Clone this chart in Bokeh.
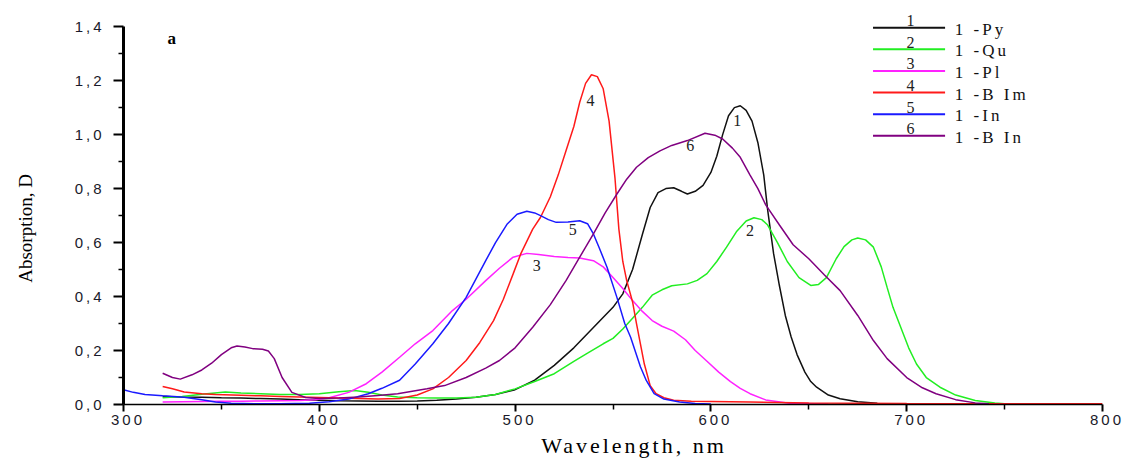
import math
from bokeh.plotting import figure
from bokeh.layouts import row
from bokeh.models import Range1d, FixedTicker, CustomJSTickFormatter, Label
from bokeh.embed import file_html
from bokeh.resources import INLINE

# ---- data ----
names = ["1 -Py", "1 -Qu", "1 -Pl", "1 -B Im", "1 -In", "1 -B In"]
numbers = ["1", "2", "3", "4", "5", "6"]
colors = ["#111111", "#22ee22", "#ff22ff", "#ff1a1a", "#1a1aff", "#800080"]

py_wl = [320, 330, 340, 350, 360, 370, 380, 390, 400, 410, 420, 430, 440, 450, 460, 470, 480, 490, 500, 510,
         520, 530, 540, 550, 555, 560, 565, 569, 573, 577, 581, 585, 588, 592, 596, 600, 603, 606, 609, 612,
         615, 618, 621, 624, 627, 629, 632, 635, 638, 641, 644, 648, 651, 654, 660, 666, 675, 685]
py_a = [0.030, 0.028, 0.027, 0.025, 0.024, 0.022, 0.020, 0.018, 0.016, 0.014, 0.013, 0.012, 0.012, 0.013, 0.016, 0.020, 0.027, 0.037, 0.055, 0.090,
        0.145, 0.210, 0.285, 0.360, 0.410, 0.500, 0.630, 0.730, 0.785, 0.800, 0.803, 0.790, 0.780, 0.790, 0.812, 0.860, 0.920, 1.000, 1.070, 1.100,
        1.107, 1.090, 1.050, 0.970, 0.850, 0.720, 0.560, 0.440, 0.330, 0.250, 0.185, 0.120, 0.085, 0.064, 0.035, 0.021, 0.010, 0.005]

qu_wl = [320, 330, 340, 352, 360, 370, 380, 390, 400, 410, 418, 425, 432, 440, 450, 460, 470, 480, 490, 500,
         510, 520, 530, 537, 545, 550, 555, 560, 565, 570, 575, 580, 588, 593, 598, 603, 608, 613, 618, 622,
         626, 629, 634, 639, 645, 651, 655, 659, 664, 668, 672, 675, 679, 683, 687, 690, 693, 697, 701, 705,
         710, 717, 725, 735, 745, 750]
qu_a = [0.025, 0.030, 0.038, 0.046, 0.043, 0.040, 0.037, 0.037, 0.040, 0.047, 0.052, 0.045, 0.035, 0.028, 0.025, 0.024, 0.024, 0.027, 0.037, 0.058,
        0.085, 0.114, 0.160, 0.190, 0.225, 0.245, 0.280, 0.320, 0.360, 0.405, 0.425, 0.440, 0.447, 0.460, 0.485, 0.530, 0.583, 0.640, 0.680, 0.692,
        0.685, 0.665, 0.600, 0.530, 0.470, 0.441, 0.445, 0.470, 0.540, 0.585, 0.610, 0.617, 0.610, 0.583, 0.510, 0.434, 0.360, 0.285, 0.210, 0.150,
        0.100, 0.064, 0.035, 0.015, 0.006, 0.003]

pl_wl = [320, 330, 340, 350, 360, 370, 380, 390, 398, 405, 415, 424, 432, 441, 449, 458, 468, 475, 485, 492,
         499, 506, 512, 520, 527, 533, 540, 545, 550, 555, 560, 565, 570, 575, 581, 587, 592, 598, 604, 610,
         615, 620, 628, 640, 660]
pl_a = [0.009, 0.010, 0.011, 0.012, 0.012, 0.013, 0.014, 0.015, 0.018, 0.025, 0.045, 0.077, 0.120, 0.175, 0.225, 0.274, 0.348, 0.390, 0.459, 0.505,
        0.546, 0.560, 0.556, 0.548, 0.545, 0.543, 0.533, 0.510, 0.471, 0.430, 0.385, 0.345, 0.311, 0.290, 0.272, 0.240, 0.200, 0.160, 0.120, 0.085,
        0.060, 0.040, 0.017, 0.005, 0.002]

bim_wl = [320, 325, 331, 340, 347, 360, 370, 380, 390, 400, 410, 420, 430, 441, 450, 458, 466, 475, 482, 489,
          494, 499, 503, 509, 513, 518, 522, 526, 530, 533, 536, 539, 542, 545, 548, 551, 553, 555, 557, 560,
          562, 564, 566, 569, 572, 576, 581, 590, 600, 620, 650, 700, 750, 800]
bim_a = [0.067, 0.058, 0.046, 0.040, 0.037, 0.034, 0.032, 0.030, 0.028, 0.026, 0.024, 0.022, 0.020, 0.022, 0.035, 0.058, 0.100, 0.163, 0.230, 0.311,
         0.390, 0.484, 0.560, 0.650, 0.694, 0.770, 0.850, 0.940, 1.030, 1.120, 1.190, 1.222, 1.215, 1.170, 1.050, 0.840, 0.650, 0.530, 0.459, 0.380,
         0.300, 0.225, 0.150, 0.070, 0.040, 0.025, 0.016, 0.012, 0.011, 0.009, 0.006, 0.004, 0.003, 0.003]

in_wl = [300, 305, 311, 320, 331, 340, 347, 355, 367, 380, 395, 405, 415, 425, 432, 441, 449, 458, 466, 475,
         485, 490, 496, 501, 506, 510, 513, 517, 521, 527, 533, 537, 540, 543, 547, 552, 556, 559, 564, 567,
         571, 576, 584, 592, 600]
in_a = [0.055, 0.045, 0.037, 0.032, 0.027, 0.018, 0.009, 0.005, 0.003, 0.003, 0.005, 0.010, 0.020, 0.040, 0.060, 0.090, 0.150, 0.225, 0.300, 0.397,
        0.533, 0.600, 0.669, 0.705, 0.716, 0.710, 0.700, 0.685, 0.675, 0.676, 0.681, 0.670, 0.632, 0.580, 0.508, 0.397, 0.300, 0.249, 0.140, 0.089,
        0.040, 0.020, 0.009, 0.004, 0.002]

bin_wl = [320, 325, 329, 335, 340, 345, 350, 355, 358, 362, 366, 371, 374, 377, 381, 386, 393, 400, 410, 420,
          430, 440, 455, 464, 475, 485, 492, 500, 509, 518, 526, 533, 540, 546, 552, 557, 562, 568, 574, 580,
          588, 597, 602, 606, 611, 615, 620, 624, 628, 635, 642, 650, 658, 666, 675, 683, 690, 700, 708, 715,
          725, 735, 742]
bin_a = [0.116, 0.100, 0.094, 0.110, 0.128, 0.153, 0.185, 0.210, 0.217, 0.213, 0.207, 0.205, 0.198, 0.170, 0.100, 0.045, 0.026, 0.022, 0.024, 0.028,
         0.033, 0.040, 0.058, 0.070, 0.100, 0.135, 0.163, 0.210, 0.286, 0.370, 0.459, 0.546, 0.632, 0.710, 0.780, 0.835, 0.879, 0.915, 0.940, 0.960,
         0.978, 1.005, 0.998, 0.984, 0.950, 0.916, 0.850, 0.800, 0.740, 0.665, 0.592, 0.540, 0.480, 0.422, 0.330, 0.237, 0.170, 0.100, 0.062, 0.040,
         0.018, 0.006, 0.003]

series_wl = [py_wl, qu_wl, pl_wl, bim_wl, in_wl, bin_wl]
series_a = [py_a, qu_a, pl_a, bim_a, in_a, bin_a]

# curve number annotations (wavelength, absorption)
tag_x = [613.5, 620.0, 511.0, 538.5, 529.5, 589.5]
tag_y = [1.052, 0.644, 0.515, 1.126, 0.648, 0.960]

x_major = [300, 400, 500, 600, 700, 800]
x_minor = [350, 450, 550, 650, 750]
y_major = [0.0, 0.2, 0.4, 0.6, 0.8, 1.0, 1.2, 1.4]
y_minor = [0.1, 0.3, 0.5, 0.7, 0.9, 1.1, 1.3]

# ---- narrow strip carrying the (un-spaced) y axis title ----
lab = figure(width=40, height=461, output_backend="svg", toolbar_location=None,
             x_range=Range1d(0, 1), y_range=Range1d(0, 1),
             x_axis_location=None, y_axis_location=None,
             min_border_left=0, min_border_right=0, min_border_top=0, min_border_bottom=0)
lab.outline_line_color = None
lab.xgrid.visible = False
lab.ygrid.visible = False
lab.add_layout(Label(x=0.62, y=0.447, text="Absorption, D", angle=math.pi / 2,
                     text_font="Liberation Serif", text_font_size="19px", text_color="black",
                     text_align="center", text_baseline="middle"))

# ---- main plot ----
p = figure(width=1085, height=461, output_backend="svg", toolbar_location=None,
           x_range=Range1d(300, 800), y_range=Range1d(0, 1.46),
           min_border_left=83, min_border_right=23, min_border_top=10, min_border_bottom=57)
p.styles = {"letter-spacing": "3px"}
p.outline_line_color = None
p.xgrid.visible = False
p.ygrid.visible = False

for wl, a, c in zip(series_wl, series_a, colors):
    p.line(wl, a, line_color=c, line_width=1.5)

p.xaxis.ticker = FixedTicker(ticks=x_major, minor_ticks=x_minor)
p.yaxis.ticker = FixedTicker(ticks=y_major, minor_ticks=y_minor)
p.yaxis.formatter = CustomJSTickFormatter(code="return tick.toFixed(1).replace('.', ',');")
p.yaxis.bounds = (0, 1.4)

for ax in (p.xaxis[0], p.yaxis[0]):
    ax.axis_line_color = "black"
    ax.major_tick_line_color = "black"
    ax.minor_tick_line_color = "black"
    ax.major_tick_in = 0
    ax.minor_tick_in = 0
    ax.major_label_text_font = "Liberation Sans"
    ax.major_label_text_font_size = "15px"
    ax.major_label_text_color = "#1a1a2a"
    ax.axis_label_text_font = "Liberation Serif"
    ax.axis_label_text_font_style = "normal"
    ax.axis_label_text_color = "black"

p.yaxis.axis_line_width = 3
p.yaxis.major_tick_line_width = 2
p.yaxis.minor_tick_line_width = 1.5
p.yaxis.major_tick_out = 10
p.yaxis.minor_tick_out = 5
p.yaxis.major_label_standoff = 18

p.xaxis.axis_line_width = 1.5
p.xaxis.major_tick_line_width = 2
p.xaxis.minor_tick_line_width = 1.5
p.xaxis.major_tick_out = 7
p.xaxis.minor_tick_out = 5
p.xaxis.major_label_standoff = 3
p.xaxis.axis_label = "Wavelength, nm"
p.xaxis.axis_label_text_font_size = "22px"
p.xaxis.axis_label_standoff = 5

# curve number tags
for t, x, y in zip(numbers, tag_x, tag_y):
    p.add_layout(Label(x=x, y=y, text=t, text_font="Liberation Serif", text_font_size="16px",
                       text_color="#222222", text_align="center", text_baseline="middle"))

# panel letter
p.add_layout(Label(x=324.7, y=1.356, text="a", text_font="Liberation Serif", text_font_size="17px",
                   text_font_style="bold", text_color="black", text_align="center", text_baseline="middle"))

# legend (numbers above short lines, names to the right)
leg_x0, leg_x1 = 682.8, 719.6
leg_num_x = 702.0
leg_txt_x = 724.6
leg_top = 1.396
leg_step = 0.080
for i, (nm, num, c) in enumerate(zip(names, numbers, colors)):
    yy = leg_top - i * leg_step
    p.segment(x0=[leg_x0], y0=[yy], x1=[leg_x1], y1=[yy], line_color=c, line_width=2)
    p.add_layout(Label(x=leg_num_x, y=yy + 0.026, text=num, text_font="Liberation Serif",
                       text_font_size="16px", text_color="#222222", text_align="center",
                       text_baseline="middle"))
    p.add_layout(Label(x=leg_txt_x, y=yy - 0.006, text=nm, text_font="Liberation Serif",
                       text_font_size="17px", text_color="#111111", text_align="left",
                       text_baseline="middle"))

layout = row(lab, p, spacing=0)

open("out.html", "w").write(file_html(layout, INLINE))
